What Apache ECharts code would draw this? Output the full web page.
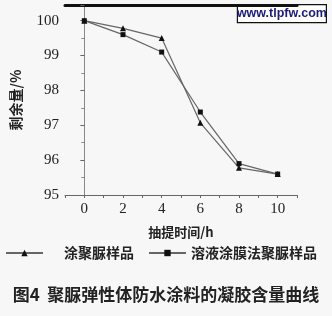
<!DOCTYPE html>
<html><head><meta charset="utf-8">
<script src="https://cdn.jsdelivr.net/npm/echarts@6/dist/echarts.min.js"></script>
<style>html,body{margin:0;padding:0;background:#f7f7f7;}#c{width:332px;height:316px;}</style>
</head><body><div id="c"></div>
<script>
var hours = [0, 2, 4, 6, 8, 10];
var seriesNames = ['涂聚脲样品', '溶液涂膜法聚脲样品'];
var sprayValues = [100, 99.78, 99.5, 97.07, 95.78, 95.6];
var solutionValues = [100, 99.6, 99.1, 97.38, 95.9, 95.6];
var xTickLabels = ['0', '2', '4', '6', '8', '10'];
var yTickLabels = ['95', '96', '97', '98', '99', '100'];
var xTitle = '抽提时间/h';
var yTitle = '剩余量/%';
var caption = '图4  聚脲弹性体防水涂料的凝胶含量曲线';
var watermark = 'www.tlpfw.com';

function pairs(xs, ys){ return xs.map(function(x,i){return [x, ys[i]];}); }
var serif = '"Liberation Serif","Noto Sans CJK SC",serif';
var cjk = '"Noto Sans CJK SC",sans-serif';
var chart = echarts.init(document.getElementById('c'));
chart.setOption({
  backgroundColor: '#f7f7f7',
  animation: false,
  grid: {left: 65, right: 35, top: 5, bottom: 121},
  xAxis: [{
    type: 'value', min: -1, max: 11, interval: 1,
    name: xTitle, nameLocation: 'middle', nameGap: 31,
    nameTextStyle: {fontFamily: cjk, fontSize: 13, color: '#222', fontWeight: 'bold'},
    axisLine: {lineStyle: {color: '#666', width: 1}},
    axisTick: {show: true, length: 3, inside: false, lineStyle: {color: '#666'}},
    axisLabel: {fontFamily: serif, fontSize: 15, color: '#222', margin: 7,
      formatter: function(v){ var s = String(v); return xTickLabels.indexOf(s) >= 0 ? s : ''; }},
    splitLine: {show: false}
  }, {
    type: 'value', position: 'top', min: -1, max: 11,
    axisLine: {show: true, lineStyle: {color: '#111', width: 3}},
    axisTick: {show: false}, axisLabel: {show: false}, splitLine: {show: false}
  }],
  yAxis: [{
    type: 'value', min: 95, max: 100.45, interval: 1,
    name: yTitle, nameLocation: 'middle', nameGap: 42, nameRotate: 90,
    nameTextStyle: {fontFamily: cjk, fontSize: 14, color: '#222', fontWeight: 'bold'},
    axisLine: {show: true, lineStyle: {color: '#666', width: 1}},
    axisTick: {show: true, length: 4, lineStyle: {color: '#666'}},
    minorTick: {show: true, splitNumber: 2, length: 3, lineStyle: {color: '#888'}},
    axisLabel: {fontFamily: serif, fontSize: 15, color: '#222', margin: 6,
      formatter: function(v){ var s = String(v); return yTickLabels.indexOf(s) >= 0 ? s : ''; }},
    splitLine: {show: false}
  }, {
    type: 'value', position: 'right', min: 95, max: 100.45,
    axisLine: {show: true, lineStyle: {color: '#888', width: 1}},
    axisTick: {show: false}, axisLabel: {show: false}, splitLine: {show: false}
  }],
  legend: [{
    data: [seriesNames[0]], left: 5, top: 246, padding: 0, itemWidth: 37, itemHeight: 8,
    textStyle: {fontFamily: cjk, fontSize: 14, color: '#222', fontWeight: 'bold', padding: [0,0,0,16]}
  }, {
    data: [seriesNames[1]], left: 148, top: 246, padding: 0, itemWidth: 37, itemHeight: 8,
    textStyle: {fontFamily: cjk, fontSize: 14, color: '#222', fontWeight: 'bold'}
  }],
  series: [{
    name: seriesNames[0], type: 'line', data: pairs(hours, sprayValues),
    symbol: 'triangle', symbolSize: 6, showSymbol: true,
    itemStyle: {color: '#111'}, lineStyle: {color: '#666', width: 1.2}
  }, {
    name: seriesNames[1], type: 'line', data: pairs(hours, solutionValues),
    symbol: 'rect', symbolSize: 5, showSymbol: true,
    itemStyle: {color: '#111'}, lineStyle: {color: '#666', width: 1.2}
  }],
  graphic: [{
    type: 'text', left: 'center', top: 286,
    style: {text: caption, fontFamily: cjk, fontSize: 17, fontWeight: 'bold', fill: '#222'}
  }, {
    type: 'group', right: 5, top: 4,
    children: [{
      type: 'rect', shape: {x: 0, y: 0, width: 89, height: 18},
      style: {fill: '#ffffff', stroke: '#111', lineWidth: 1.2}
    }, {
      type: 'text', x: 44.5, y: 9,
      style: {text: watermark, fontFamily: '"Liberation Sans",sans-serif', fontSize: 12.5, fontWeight: 'bold', fill: '#1c1c7a', align: 'center', verticalAlign: 'middle'}
    }]
  }]
});
</script></body></html>
